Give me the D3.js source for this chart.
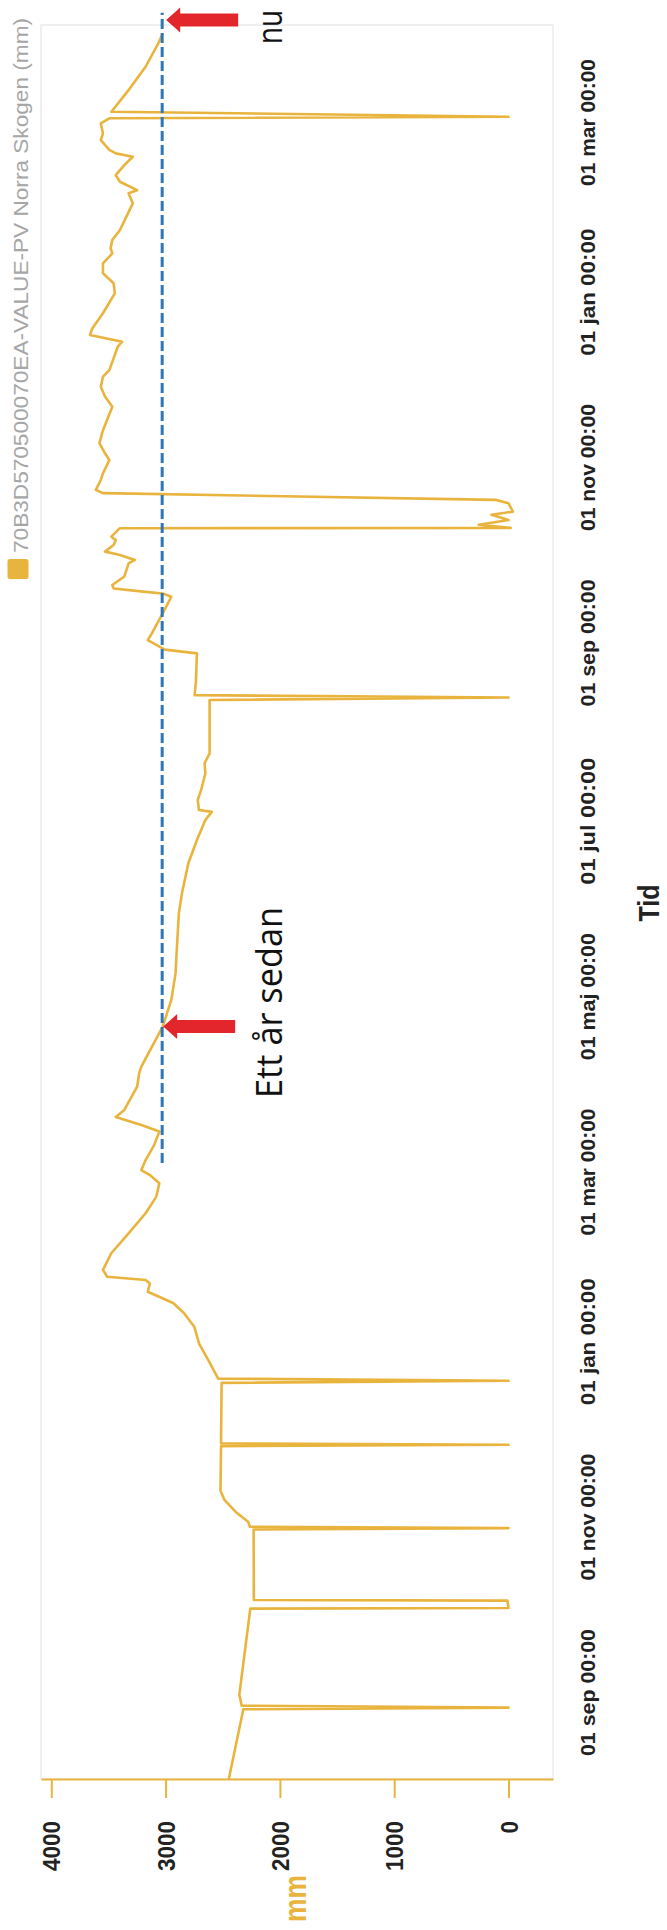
<!DOCTYPE html>
<html><head><meta charset="utf-8">
<script src="https://cdn.jsdelivr.net/npm/d3@7"></script>
<style>body{margin:0;background:#fff} svg{display:block}</style>
</head><body>
<svg id="c" width="667" height="1930"></svg>
<script>
const seriesName = "70B3D570500070EA-VALUE-PV Norra Skogen (mm)";
const valueTitle = "mm";
const timeTitle = "Tid";
const timeDomain = ["2017-08-01T18:00", "2019-04-03T17:30"];
const valueDomain = [-389, 4090];
const valueTicks = [0, 1000, 2000, 3000, 4000];
const timeTicks = ["2017-09-01T00:00","2017-11-01T00:00","2018-01-01T00:00","2018-03-01T00:00","2018-05-01T00:00","2018-07-01T00:00","2018-09-01T00:00","2018-11-01T00:00","2019-01-01T00:00","2019-03-01T00:00"];
const timeTickLabels = ["01 sep 00:00","01 nov 00:00","01 jan 00:00","01 mar 00:00","01 maj 00:00","01 jul 00:00","01 sep 00:00","01 nov 00:00","01 jan 00:00","01 mar 00:00"];

const dates = [
"2017-08-01T18:00","2017-08-26T00:00","2017-08-26T14:00","2017-08-27T06:00","2017-08-31T00:00",
"2017-09-30T00:00","2017-09-30T05:00","2017-10-02T19:00","2017-10-03T00:00","2017-10-27T12:00",
"2017-10-28T00:00","2017-10-28T12:00","2017-10-30T05:00","2017-11-02T17:00","2017-11-06T19:00",
"2017-11-10T00:00","2017-11-25T12:00","2017-11-26T00:00","2017-11-26T12:00","2017-12-17T12:00",
"2017-12-18T06:00","2017-12-19T00:00","2017-12-24T17:00","2017-12-31T02:00","2018-01-06T00:00",
"2018-01-10T17:00","2018-01-14T05:00","2018-01-15T22:00","2018-01-18T05:00","2018-01-21T02:00",
"2018-01-22T07:00","2018-01-23T10:00","2018-01-25T19:00","2018-01-31T14:00","2018-02-07T12:00",
"2018-02-14T12:00","2018-02-20T07:00","2018-02-24T22:00","2018-02-27T19:00","2018-03-01T12:00",
"2018-03-05T00:00","2018-03-10T05:00","2018-03-14T22:00","2018-03-17T05:00","2018-03-20T00:00",
"2018-03-22T10:00","2018-03-30T12:00","2018-04-04T05:00","2018-04-06T12:00","2018-04-13T10:00",
"2018-04-20T10:00","2018-04-29T17:00","2018-05-08T22:00","2018-05-17T05:00","2018-05-29T19:00",
"2018-06-05T19:00","2018-06-16T05:00","2018-06-24T07:00","2018-07-01T07:00","2018-07-04T02:00",
"2018-07-04T17:00","2018-07-08T05:00","2018-07-11T17:00","2018-07-17T12:00","2018-07-21T00:00",
"2018-07-24T10:00","2018-08-12T00:00","2018-08-12T20:00","2018-08-13T16:00","2018-08-18T22:00",
"2018-08-28T05:00","2018-08-29T12:00","2018-09-01T19:00","2018-09-04T05:00","2018-09-11T02:00",
"2018-09-16T22:00","2018-09-18T00:00","2018-09-18T14:00","2018-09-19T19:00","2018-09-21T00:00",
"2018-09-23T22:00","2018-09-28T12:00","2018-09-29T17:00","2018-10-01T10:00","2018-10-02T14:00",
"2018-10-04T22:00","2018-10-06T14:00","2018-10-07T19:00","2018-10-10T02:00","2018-10-10T17:00",
"2018-10-10T20:00","2018-10-11T22:00","2018-10-13T14:00","2018-10-15T10:00","2018-10-16T12:00",
"2018-10-19T10:00","2018-10-20T14:00","2018-10-22T22:00","2018-10-24T02:00","2018-10-27T12:00",
"2018-10-29T19:00","2018-11-03T10:00","2018-11-05T19:00","2018-11-09T07:00","2018-11-13T19:00",
"2018-11-22T00:00","2018-11-25T12:00","2018-11-28T22:00","2018-12-02T10:00","2018-12-04T17:00",
"2018-12-12T22:00","2018-12-14T14:00","2018-12-16T22:00","2018-12-19T05:00","2018-12-24T12:00",
"2018-12-31T10:00","2019-01-03T22:00","2019-01-07T10:00","2019-01-10T19:00","2019-01-14T07:00",
"2019-01-16T02:00","2019-01-19T00:00","2019-01-22T10:00","2019-01-27T02:00","2019-01-31T17:00",
"2019-02-04T05:00","2019-02-05T07:00","2019-02-08T05:00","2019-02-10T12:00","2019-02-14T00:00",
"2019-02-16T22:00","2019-02-18T02:00","2019-02-19T07:00","2019-02-22T17:00","2019-02-25T02:00",
"2019-02-28T12:00","2019-03-02T07:00","2019-03-02T20:00","2019-03-04T14:00","2019-03-12T02:00",
"2019-03-20T05:00","2019-03-28T10:00","2019-03-31T19:00"
];
const values = [
2447,2320,0,2334,2355,
2259,0,10,2228,2230,
0,2262,2278,2389,2485,
2520,2515,0,2515,2510,
0,2540,2617,2706,2749,
2838,2931,3027,3156,3137,
3175,3511,3548,3475,3324,
3175,3081,3055,3137,3212,
3175,3100,3055,3212,3436,
3361,3249,3231,3212,3119,
3025,2950,2913,2902,2884,
2857,2801,2726,2652,2596,
2708,2719,2689,2652,2659,
2615,2615,0,2746,2734,
2726,3007,3156,3119,3025,
2950,3025,3175,3455,3466,
3361,3324,3268,3399,3530,
3455,3436,3474,3418,3399,
-19,261,0,149,-38,
0,112,3548,3610,3567,
3548,3492,3530,3579,3548,
3466,3530,3567,3548,3492,
3418,3380,3661,3642,3548,
3444,3455,3548,3548,3466,
3481,3466,3399,3343,3287,
3324,3249,3399,3436,3361,
3287,3436,3492,3567,3548,
3567,3492,0,3474,3324,
3175,3063,3025
];

// annotations (hand-drawn reference line and arrows)
const refValue = 3030;
const refDates = ["2018-03-04T00:00", "2019-04-08T00:00"];
const markerLabels = ["nu", "Ett år sedan"];
const markerDates = ["2019-04-05T12:00", "2018-04-20T10:00"];

const parse = s => new Date(s + "Z");
const orange = "#e9b43e";

const svg = d3.select("#c");
const L = 41, R = 553, T = 25, B = 1779;

const x = d3.scaleLinear().domain(valueDomain).range([R, L]);
const y = d3.scaleUtc().domain(timeDomain.map(parse)).range([B, T]);

// plot frame
svg.append("rect").attr("x", L).attr("y", T).attr("width", R - L).attr("height", B - T)
  .attr("fill", "#fff").attr("stroke", "#ececec").attr("stroke-width", 1.5);

// value axis
const gx = svg.append("g").attr("transform", `translate(0,${B})`)
  .call(d3.axisBottom(x).tickValues(valueTicks).tickSize(19).tickSizeOuter(0).tickFormat(d3.format("d")));
gx.select(".domain").attr("stroke", orange).attr("stroke-width", 2);
gx.selectAll(".tick line").attr("stroke", orange).attr("stroke-width", 2);
gx.selectAll(".tick text")
  .attr("x", null).attr("y", null).attr("dy", null)
  .attr("transform", "translate(8.5,42) rotate(-90)")
  .attr("text-anchor", "end")
  .attr("fill", "#222")
  .style("font-family", "'Liberation Sans', Arial, sans-serif")
  .style("font-weight", "bold").style("font-size", "23px")
  .attr("textLength", function() { return 12.5 * this.textContent.length; })
  .attr("lengthAdjust", "spacingAndGlyphs");

// time axis
const gy = svg.append("g").attr("transform", "translate(595,0)")
  .call(d3.axisRight(y).tickValues(timeTicks.map(parse)).tickSize(0)
    .tickFormat((d, i) => timeTickLabels[i]));
gy.select(".domain").remove();
gy.selectAll(".tick text")
  .attr("x", null).attr("y", null).attr("dy", null)
  .attr("transform", "rotate(-90)")
  .attr("text-anchor", "middle")
  .attr("fill", "#222")
  .style("font-family", "'Liberation Sans', Arial, sans-serif")
  .style("font-weight", "bold").style("font-size", "21px")
  .attr("textLength", 127).attr("lengthAdjust", "spacingAndGlyphs");

// axis titles
svg.append("text").attr("transform", "translate(305.5,1898.5) rotate(-90)")
  .attr("text-anchor", "middle").attr("fill", orange)
  .style("font-family", "'Liberation Sans', Arial, sans-serif")
  .style("font-weight", "bold").style("font-size", "32px")
  .attr("textLength", 47).attr("lengthAdjust", "spacingAndGlyphs").text(valueTitle);
svg.append("text").attr("transform", "translate(659,903) rotate(-90)")
  .attr("text-anchor", "middle").attr("fill", "#222")
  .style("font-family", "'Liberation Sans', Arial, sans-serif")
  .style("font-weight", "bold").style("font-size", "29px")
  .attr("textLength", 37).attr("lengthAdjust", "spacingAndGlyphs").text(timeTitle);

// legend
svg.append("rect").attr("x", 7.5).attr("y", 559).attr("width", 21).attr("height", 20)
  .attr("rx", 2.5).attr("fill", orange);
svg.append("text").attr("transform", "translate(27.5,553) rotate(-90)")
  .attr("text-anchor", "start").attr("fill", "#a6a6a6")
  .style("font-family", "'Liberation Sans', Arial, sans-serif")
  .style("font-size", "21px")
  .attr("textLength", 535).attr("lengthAdjust", "spacingAndGlyphs").text(seriesName);

// series line
const data = dates.map((d, i) => ({ t: parse(d), v: values[i] }));
svg.append("path").datum(data)
  .attr("fill", "none").attr("stroke", orange).attr("stroke-width", 2.6)
  .attr("stroke-linejoin", "round")
  .attr("d", d3.line().x(d => x(d.v)).y(d => y(d.t)));

// reference dashed line
const rx = x(refValue);
svg.append("line").attr("x1", rx).attr("x2", rx)
  .attr("y1", y(parse(refDates[0]))).attr("y2", y(parse(refDates[1])))
  .attr("stroke", "#2f76b8").attr("stroke-width", 3).attr("stroke-dasharray", "10,4");

// arrows and labels
const arrow = (tx, ty) => `M${tx},${ty} L${tx+14},${ty-12.5} L${tx+14},${ty-6.5} L${tx+72},${ty-6.5} L${tx+72},${ty+6.5} L${tx+14},${ty+6.5} L${tx+14},${ty+12.5} Z`;
markerDates.forEach((md, i) => {
  const ty = y(parse(md));
  const tx = rx + (i === 0 ? 4 : 1);
  svg.append("path").attr("d", arrow(tx, ty)).attr("fill", "#e3262b");
});
svg.append("text").attr("transform", `translate(282,44) rotate(-90)`)
  .attr("text-anchor", "start").attr("fill", "#111")
  .style("font-family", "'Open Sans', sans-serif").style("font-size", "34px")
  .attr("textLength", 34).attr("lengthAdjust", "spacingAndGlyphs")
  .text(markerLabels[0]);
svg.append("text").attr("transform", `translate(282,1098) rotate(-90)`)
  .attr("text-anchor", "start").attr("fill", "#111")
  .style("font-family", "'Open Sans', sans-serif").style("font-size", "37px")
  .attr("textLength", 191).attr("lengthAdjust", "spacingAndGlyphs")
  .text(markerLabels[1]);
</script>
</body></html>
